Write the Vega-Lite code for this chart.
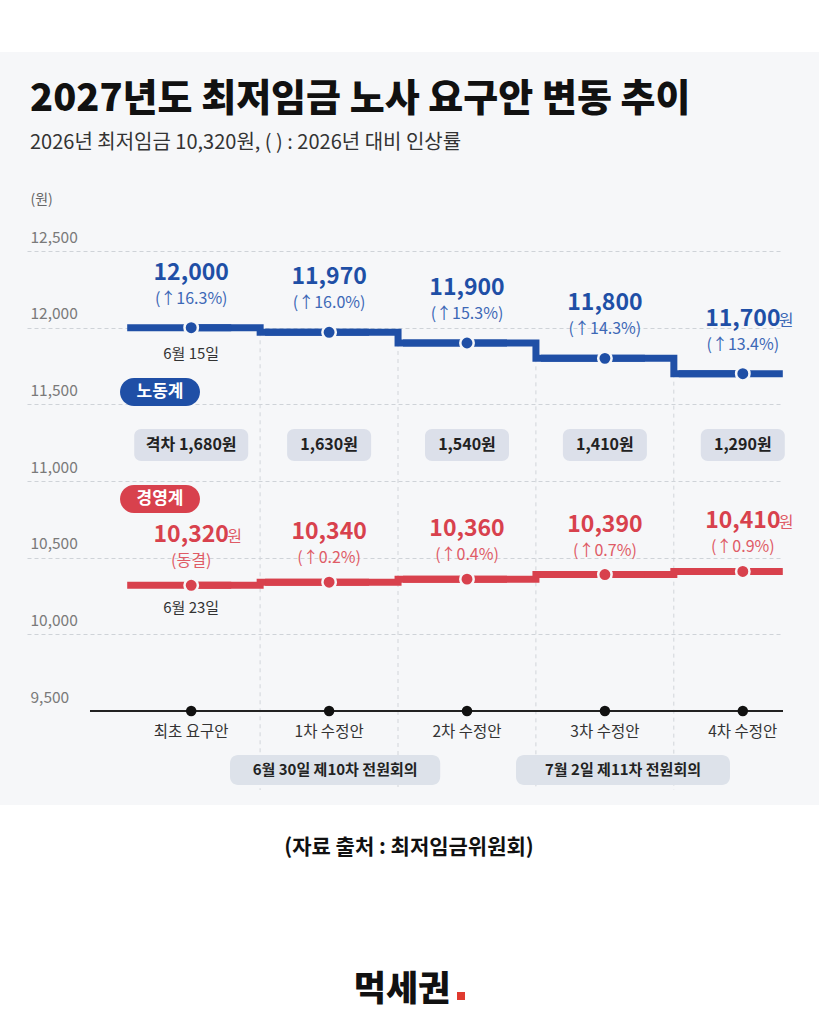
{
  "$schema": "https://vega.github.io/schema/vega-lite/v6.json",
  "width": 756,
  "height": 1024,
  "autosize": {"type": "none"},
  "padding": {"left": 27, "right": 36, "top": 0, "bottom": 0},
  "background": "#f6f7f9",
  "config": {"font": "Noto Sans CJK KR", "view": {"stroke": null}},
  "data": {"values": [
    {"i": 0, "stage": "최초 요구안", "labor": 12000, "laborNote": "(↑16.3%)", "laborDate": "6월 15일", "mgmt": 10320, "mgmtNote": "(동결)", "mgmtDate": "6월 23일", "gap": 1680, "gapText": "격차 1,680원"},
    {"i": 1, "stage": "1차 수정안", "labor": 11970, "laborNote": "(↑16.0%)", "laborDate": "", "mgmt": 10340, "mgmtNote": "(↑0.2%)", "mgmtDate": "", "gap": 1630, "gapText": "1,630원"},
    {"i": 2, "stage": "2차 수정안", "labor": 11900, "laborNote": "(↑15.3%)", "laborDate": "", "mgmt": 10360, "mgmtNote": "(↑0.4%)", "mgmtDate": "", "gap": 1540, "gapText": "1,540원"},
    {"i": 3, "stage": "3차 수정안", "labor": 11800, "laborNote": "(↑14.3%)", "laborDate": "", "mgmt": 10390, "mgmtNote": "(↑0.7%)", "mgmtDate": "", "gap": 1410, "gapText": "1,410원"},
    {"i": 4, "stage": "4차 수정안", "labor": 11700, "laborNote": "(↑13.4%)", "laborDate": "", "mgmt": 10410, "mgmtNote": "(↑0.9%)", "mgmtDate": "", "gap": 1290, "gapText": "1,290원"}
  ]},
  "layer": [
    {
      "data": {"values": [{}]},
      "mark": {"type": "rect", "fill": "#ffffff"},
      "encoding": {
        "x": {"datum": -1.6, "type": "quantitative", "scale": {"domain": [-1.1907, 4.2915], "nice": false, "zero": false},
          "axis": {"title": null, "labels": false, "ticks": false, "domain": false, "grid": false}},
        "x2": {"datum": 4.7},
        "y": {"datum": 14400, "type": "quantitative", "scale": {"domain": [7458.7, 14137], "nice": false, "zero": false},
          "axis": {"title": "(원)", "titleAngle": 0, "titleAlign": "left", "titleBaseline": "middle", "titleX": 3, "titleY": 199, "titleFontSize": 14, "titleFontWeight": "normal", "titleColor": "#666666",
            "values": [9500, 10000, 10500, 11000, 11500, 12000, 12500], "labelExpr": "format(datum.value, ',')", "labelAlign": "left", "labelBaseline": "alphabetic", "labelPadding": -3, "labelOffset": -9, "labelFontSize": 15.5, "labelColor": "#7a7a7a",
            "domain": false, "ticks": false, "grid": true, "gridDash": [4, 3], "gridWidth": 1,
            "gridColor": {"condition": {"test": "datum.value <= 9500", "value": "transparent"}, "value": "#cfd3d8"}}},
        "y2": {"datum": 13798}
      }
    },
    {
      "data": {"values": [{}]},
      "mark": {"type": "rect", "fill": "#ffffff"},
      "encoding": {
        "x": {"datum": -1.6, "type": "quantitative"},
        "x2": {"datum": 4.7},
        "y": {"datum": 8887, "type": "quantitative"},
        "y2": {"datum": 7300}
      }
    },
    {
      "transform": [{"filter": "datum.i >= 1"}],
      "mark": {"type": "rule", "stroke": "#d2d5da", "strokeDash": [4, 4], "strokeWidth": 1, "xOffset": -69},
      "encoding": {
        "x": {"field": "i", "type": "quantitative"},
        "y": {"field": "labor", "type": "quantitative"},
        "y2": {"datum": 8985}
      }
    },
    {
      "mark": {"type": "line", "interpolate": "step", "strokeWidth": 7, "color": "#1f4fa6"},
      "encoding": {
        "x": {"field": "i", "type": "quantitative"},
        "y": {"field": "labor", "type": "quantitative"}
      }
    },
    {
      "mark": {"type": "rule", "strokeWidth": 7, "color": "#1f4fa6", "xOffset": -64, "x2Offset": 40},
      "encoding": {
        "x": {"field": "i", "type": "quantitative"},
        "x2": {"field": "i"},
        "y": {"field": "labor", "type": "quantitative"}
      }
    },
    {
      "mark": {"type": "line", "interpolate": "step", "strokeWidth": 7, "color": "#d8414d"},
      "encoding": {
        "x": {"field": "i", "type": "quantitative"},
        "y": {"field": "mgmt", "type": "quantitative"}
      }
    },
    {
      "mark": {"type": "rule", "strokeWidth": 7, "color": "#d8414d", "xOffset": -64, "x2Offset": 40},
      "encoding": {
        "x": {"field": "i", "type": "quantitative"},
        "x2": {"field": "i"},
        "y": {"field": "mgmt", "type": "quantitative"}
      }
    },
    {
      "mark": {"type": "circle", "size": 180, "fill": "#1f4fa6", "stroke": "#f6f7f9", "strokeWidth": 2.5, "opacity": 1},
      "encoding": {
        "x": {"field": "i", "type": "quantitative"},
        "y": {"field": "labor", "type": "quantitative"}
      }
    },
    {
      "mark": {"type": "circle", "size": 180, "fill": "#d8414d", "stroke": "#f6f7f9", "strokeWidth": 2.5, "opacity": 1},
      "encoding": {
        "x": {"field": "i", "type": "quantitative"},
        "y": {"field": "mgmt", "type": "quantitative"}
      }
    },
    {
      "mark": {"type": "text", "dy": -55, "fontSize": 23, "fontWeight": "bold", "color": "#1f4fa6", "baseline": "middle"},
      "encoding": {
        "x": {"field": "i", "type": "quantitative"},
        "y": {"field": "labor", "type": "quantitative"},
        "text": {"field": "labor", "type": "quantitative", "format": ","}
      }
    },
    {
      "mark": {"type": "text", "dy": -29, "fontSize": 16, "color": "#3d68b6", "baseline": "middle"},
      "encoding": {
        "x": {"field": "i", "type": "quantitative"},
        "y": {"field": "labor", "type": "quantitative"},
        "text": {"field": "laborNote"}
      }
    },
    {
      "transform": [{"filter": "datum.i == 4"}],
      "mark": {"type": "text", "dx": 36, "dy": -53, "fontSize": 16, "color": "#3d68b6", "baseline": "middle", "align": "left"},
      "encoding": {
        "x": {"field": "i", "type": "quantitative"},
        "y": {"field": "labor", "type": "quantitative"},
        "text": {"value": "원"}
      }
    },
    {
      "transform": [{"filter": "datum.i == 0"}],
      "mark": {"type": "text", "dy": 26, "fontSize": 15, "color": "#333333", "baseline": "middle"},
      "encoding": {
        "x": {"field": "i", "type": "quantitative"},
        "y": {"field": "labor", "type": "quantitative"},
        "text": {"field": "laborDate"}
      }
    },
    {
      "mark": {"type": "text", "dy": -50, "fontSize": 23, "fontWeight": "bold", "color": "#d8414d", "baseline": "middle"},
      "encoding": {
        "x": {"field": "i", "type": "quantitative"},
        "y": {"field": "mgmt", "type": "quantitative"},
        "text": {"field": "mgmt", "type": "quantitative", "format": ","}
      }
    },
    {
      "mark": {"type": "text", "dy": -24, "fontSize": 16, "color": "#df5b66", "baseline": "middle"},
      "encoding": {
        "x": {"field": "i", "type": "quantitative"},
        "y": {"field": "mgmt", "type": "quantitative"},
        "text": {"field": "mgmtNote"}
      }
    },
    {
      "transform": [{"filter": "datum.i == 0 || datum.i == 4"}],
      "mark": {"type": "text", "dx": 36, "dy": -48, "fontSize": 16, "color": "#df5b66", "baseline": "middle", "align": "left"},
      "encoding": {
        "x": {"field": "i", "type": "quantitative"},
        "y": {"field": "mgmt", "type": "quantitative"},
        "text": {"value": "원"}
      }
    },
    {
      "transform": [{"filter": "datum.i == 0"}],
      "mark": {"type": "text", "dy": 23, "fontSize": 15, "color": "#333333", "baseline": "middle"},
      "encoding": {
        "x": {"field": "i", "type": "quantitative"},
        "y": {"field": "mgmt", "type": "quantitative"},
        "text": {"field": "mgmtDate"}
      }
    },
    {
      "data": {"values": [{}]},
      "mark": {"type": "rect", "fill": "#1f4fa6", "cornerRadius": 15},
      "encoding": {
        "x": {"datum": -0.5163, "type": "quantitative"},
        "x2": {"datum": 0.0638},
        "y": {"datum": 11671.8, "type": "quantitative"},
        "y2": {"datum": 11489.2}
      }
    },
    {
      "data": {"values": [{}]},
      "mark": {"type": "text", "fontSize": 17, "fontWeight": "bold", "color": "#ffffff", "baseline": "middle"},
      "encoding": {
        "x": {"datum": -0.2263, "type": "quantitative"},
        "y": {"datum": 11580.5, "type": "quantitative"},
        "text": {"value": "노동계"}
      }
    },
    {
      "data": {"values": [{}]},
      "mark": {"type": "rect", "fill": "#d8414d", "cornerRadius": 15},
      "encoding": {
        "x": {"datum": -0.5163, "type": "quantitative"},
        "x2": {"datum": 0.0638},
        "y": {"datum": 10974, "type": "quantitative"},
        "y2": {"datum": 10791.4}
      }
    },
    {
      "data": {"values": [{}]},
      "mark": {"type": "text", "fontSize": 17, "fontWeight": "bold", "color": "#ffffff", "baseline": "middle"},
      "encoding": {
        "x": {"datum": -0.2263, "type": "quantitative"},
        "y": {"datum": 10882.7, "type": "quantitative"},
        "text": {"value": "경영계"}
      }
    },
    {
      "transform": [{"filter": "datum.i == 0"}],
      "mark": {"type": "rect", "fill": "#dce0ea", "cornerRadius": 7, "xOffset": -57, "x2Offset": 57, "yOffset": -16, "y2Offset": 16},
      "encoding": {
        "x": {"field": "i", "type": "quantitative"},
        "x2": {"field": "i"},
        "y": {"datum": 11234.8, "type": "quantitative"},
        "y2": {"datum": 11234.8}
      }
    },
    {
      "transform": [{"filter": "datum.i >= 1"}],
      "mark": {"type": "rect", "fill": "#dce0ea", "cornerRadius": 7, "xOffset": -42, "x2Offset": 42, "yOffset": -16, "y2Offset": 16},
      "encoding": {
        "x": {"field": "i", "type": "quantitative"},
        "x2": {"field": "i"},
        "y": {"datum": 11234.8, "type": "quantitative"},
        "y2": {"datum": 11234.8}
      }
    },
    {
      "mark": {"type": "text", "fontSize": 16, "fontWeight": "bold", "color": "#222222", "baseline": "middle"},
      "encoding": {
        "x": {"field": "i", "type": "quantitative"},
        "y": {"datum": 11234.8, "type": "quantitative"},
        "text": {"field": "gapText"}
      }
    },
    {
      "data": {"values": [{}]},
      "mark": {"type": "rule", "stroke": "#222222", "strokeWidth": 2},
      "encoding": {
        "x": {"datum": -0.7339, "type": "quantitative"},
        "x2": {"datum": 4.2915},
        "y": {"datum": 9500, "type": "quantitative"}
      }
    },
    {
      "mark": {"type": "circle", "size": 110, "fill": "#111111", "opacity": 1},
      "encoding": {
        "x": {"field": "i", "type": "quantitative"},
        "y": {"datum": 9500, "type": "quantitative"}
      }
    },
    {
      "mark": {"type": "text", "fontSize": 15.5, "color": "#333333", "baseline": "middle"},
      "encoding": {
        "x": {"field": "i", "type": "quantitative"},
        "y": {"datum": 9363, "type": "quantitative"},
        "text": {"field": "stage"}
      }
    },
    {
      "data": {"values": [{}]},
      "mark": {"type": "rect", "fill": "#dde2ea", "cornerRadius": 8},
      "encoding": {
        "x": {"datum": 0.2814, "type": "quantitative"},
        "x2": {"datum": 1.8057},
        "y": {"datum": 9213.1, "type": "quantitative"},
        "y2": {"datum": 9017.5}
      }
    },
    {
      "data": {"values": [{}]},
      "mark": {"type": "rect", "fill": "#dde2ea", "cornerRadius": 8},
      "encoding": {
        "x": {"datum": 2.3554, "type": "quantitative"},
        "x2": {"datum": 3.9072},
        "y": {"datum": 9213.1, "type": "quantitative"},
        "y2": {"datum": 9017.5}
      }
    },
    {
      "data": {"values": [{}]},
      "mark": {"type": "text", "fontSize": 15, "fontWeight": "bold", "color": "#222222", "baseline": "middle"},
      "encoding": {
        "x": {"datum": 1.0435, "type": "quantitative"},
        "y": {"datum": 9115.3, "type": "quantitative"},
        "text": {"value": "6월 30일 제10차 전원회의"}
      }
    },
    {
      "data": {"values": [{}]},
      "mark": {"type": "text", "fontSize": 15, "fontWeight": "bold", "color": "#222222", "baseline": "middle"},
      "encoding": {
        "x": {"datum": 3.1313, "type": "quantitative"},
        "y": {"datum": 9115.3, "type": "quantitative"},
        "text": {"value": "7월 2일 제11차 전원회의"}
      }
    },
    {
      "data": {"values": [{}]},
      "mark": {"type": "text", "fontSize": 38, "fontWeight": 900, "color": "#111111", "baseline": "middle", "align": "left"},
      "encoding": {
        "x": {"datum": -1.169, "type": "quantitative"},
        "y": {"datum": 13485, "type": "quantitative"},
        "text": {"value": "2027년도 최저임금 노사 요구안 변동 추이"}
      }
    },
    {
      "data": {"values": [{}]},
      "mark": {"type": "text", "fontSize": 20, "color": "#333333", "baseline": "middle", "align": "left"},
      "encoding": {
        "x": {"datum": -1.169, "type": "quantitative"},
        "y": {"datum": 13204, "type": "quantitative"},
        "text": {"value": "2026년 최저임금 10,320원, ( ) : 2026년 대비 인상률"}
      }
    },
    {
      "data": {"values": [{}]},
      "mark": {"type": "text", "fontSize": 21, "fontWeight": "bold", "color": "#111111", "baseline": "middle"},
      "encoding": {
        "x": {"datum": 1.5794, "type": "quantitative"},
        "y": {"datum": 8606.6, "type": "quantitative"},
        "text": {"value": "(자료 출처 : 최저임금위원회)"}
      }
    },
    {
      "data": {"values": [{}]},
      "mark": {"type": "text", "fontSize": 35, "fontWeight": 900, "color": "#111111", "baseline": "middle"},
      "encoding": {
        "x": {"datum": 1.5286, "type": "quantitative"},
        "y": {"datum": 7680.5, "type": "quantitative"},
        "text": {"value": "먹세권"}
      }
    },
    {
      "data": {"values": [{}]},
      "mark": {"type": "square", "size": 64, "fill": "#e03a2f", "opacity": 1},
      "encoding": {
        "x": {"datum": 1.9565, "type": "quantitative"},
        "y": {"datum": 7641.4, "type": "quantitative"}
      }
    }
  ]
}
